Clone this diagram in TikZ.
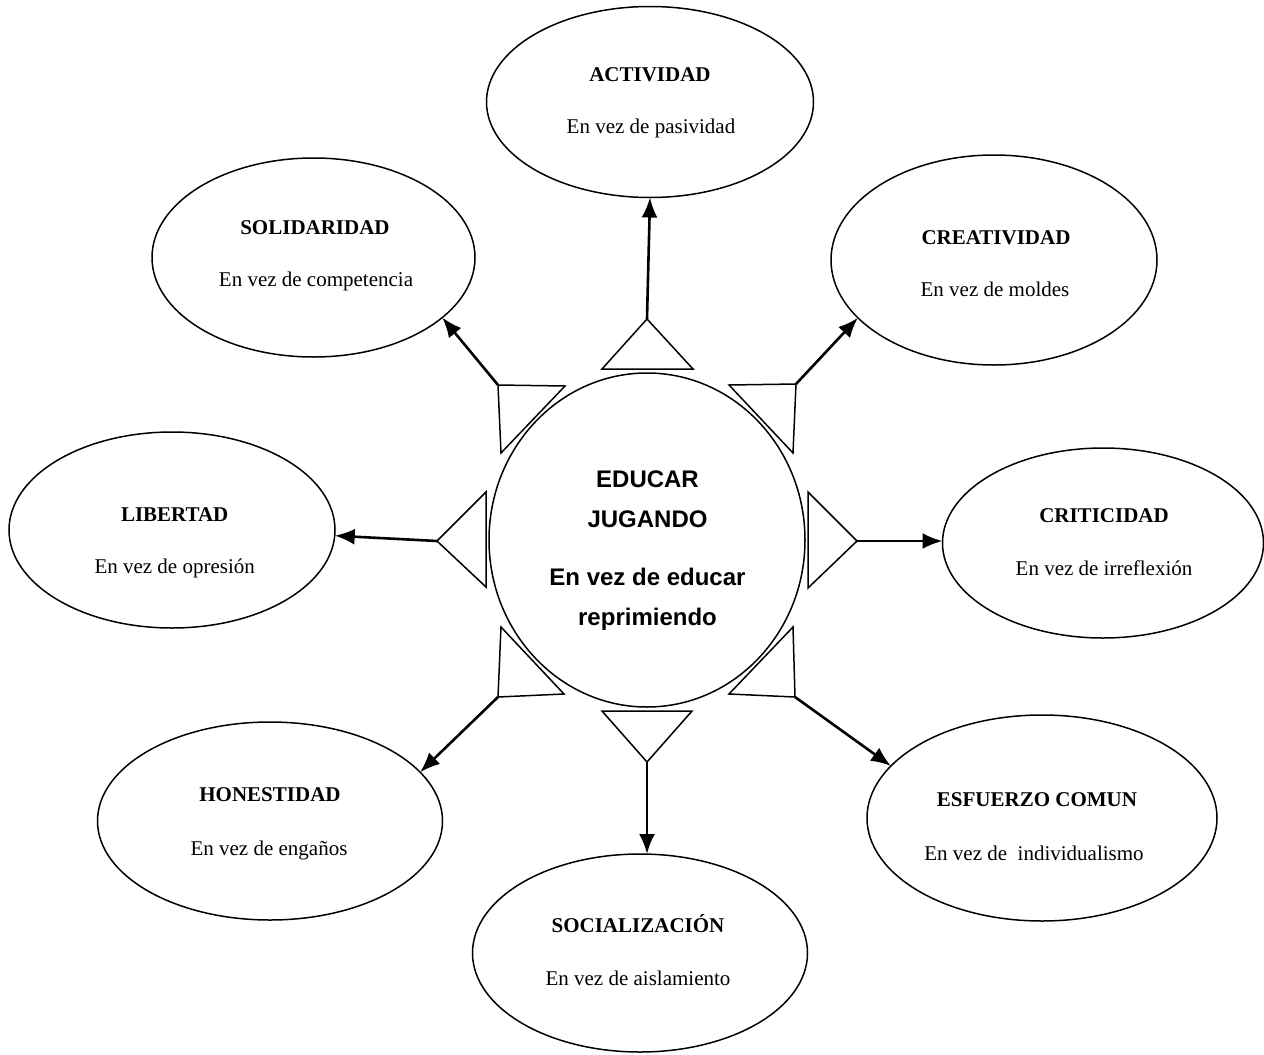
\documentclass[tikz,border=0pt]{standalone}
\usepackage{fontspec}
\setmainfont{Liberation Serif}
\newfontfamily\arialf{Liberation Sans}
\usetikzlibrary{shapes.geometric,arrows.meta}
\tikzset{
  oval/.style={draw, ellipse, line width=1.5pt, inner sep=0pt, outer sep=0pt},
  ttl/.style={anchor=base, font=\fontsize{21}{25}\selectfont\bfseries, inner sep=0pt},
  sub/.style={anchor=base, font=\fontsize{21}{25}\selectfont, inner sep=0pt},
  ctr/.style={anchor=base, font=\arialf\fontsize{24}{28}\selectfont\bfseries, inner sep=0pt},
  tri/.style={draw, line width=1.5pt, line join=miter, fill=white},
  arr/.style={line width=2.6pt, -{Latex[length=20pt,width=16pt]}},
}
\begin{document}
\begin{tikzpicture}[x=1pt,y=-1pt]
\useasboundingbox[fill=white] (0,0) rectangle (1264,1055);

% outer ellipses
\node[oval, minimum width=327pt, minimum height=191pt] (act) at (650,102) {};
\node[oval, minimum width=323pt, minimum height=199pt] (sol) at (313.5,257.5) {};
\node[oval, minimum width=326pt, minimum height=210pt] (cre) at (994,260) {};
\node[oval, minimum width=326pt, minimum height=196pt] (lib) at (172,530) {};
\node[oval, minimum width=321pt, minimum height=190pt] (cri) at (1103,543) {};
\node[oval, minimum width=345pt, minimum height=198pt] (hon) at (270,821) {};
\node[oval, minimum width=350pt, minimum height=206pt] (esf) at (1042,818) {};
\node[oval, minimum width=335pt, minimum height=198pt] (soc) at (640,953) {};

% centre ellipse
\node[oval, minimum width=316pt, minimum height=334pt] (ctr) at (647,540) {};

% texts
\node[ttl] (tact) at (650,81.7) {ACTIVIDAD};
\node[sub] (sact) at (651,133) {En vez de pasividad};
\node[ttl] (tsol) at (315,234) {SOLIDARIDAD};
\node[sub] (ssol) at (316,286) {En vez de competencia};
\node[ttl] (tcre) at (996,244) {CREATIVIDAD};
\node[sub] (scre) at (995,296.7) {En vez de moldes};
\node[ttl] (tlib) at (174.7,521.7) {LIBERTAD};
\node[sub] (slib) at (174.7,573) {En vez de opresión};
\node[ttl] (tcri) at (1104,522) {CRITICIDAD};
\node[sub] (scri) at (1104,575.7) {En vez de irreflexión};
\node[ttl] (thon) at (270,801.7) {HONESTIDAD};
\node[sub] (shon) at (269,855) {En vez de engaños};
\node[ttl] (tesf) at (1037,806.7) {ESFUERZO COMUN};
\node[sub] (sesf) at (1034,860) {En vez de\ \ individualismo};
\node[ttl] (tsoc) at (638,932.7) {SOCIALIZACIÓN};
\node[sub] (ssoc) at (638,985) {En vez de aislamiento};

\node[ctr] (c1) at (647.5,487) {EDUCAR};
\node[ctr] (c2) at (647.5,527) {JUGANDO};
\node[ctr] (c3) at (647.5,585) {En vez de educar};
\node[ctr] (c4) at (647.5,625) {reprimiendo};

% triangles (apex coordinates named)
\coordinate (pT) at (647,319);
\draw[tri] (pT) -- (693,369) -- (602,369) -- cycle;
\coordinate (pUL) at (498,385);
\draw[tri] (pUL) -- (565,386) -- (501,453) -- cycle;
\coordinate (pUR) at (796,384);
\draw[tri] (pUR) -- (729,385) -- (793,453) -- cycle;
\coordinate (pL) at (437,541);
\draw[tri] (pL) -- (486,492) -- (486,587) -- cycle;
\coordinate (pR) at (857,541);
\draw[tri] (pR) -- (808,492) -- (808,588) -- cycle;
\coordinate (pLL) at (498,697);
\draw[tri] (pLL) -- (501,627) -- (564,694) -- cycle;
\coordinate (pB) at (647,762);
\draw[tri] (pB) -- (602,711) -- (692,711) -- cycle;
\coordinate (pLR) at (795,697);
\draw[tri] (pLR) -- (793,627) -- (729,694) -- cycle;

% arrows
\draw[arr] (pT) -- (act.south);
\draw[arr] (pUL) -- (sol.-25);
\draw[arr] (pUR) -- (cre.203);
\draw[arr] (pL) -- (lib.-2);
\draw[arr] (pR) -- (pR -| cri.west);
\draw[arr] (pLL) -- (hon.18);
\draw[arr] (pB) -- (pB |- soc.north);
\draw[arr] (pLR) -- (esf.161);
\end{tikzpicture}
\end{document}
